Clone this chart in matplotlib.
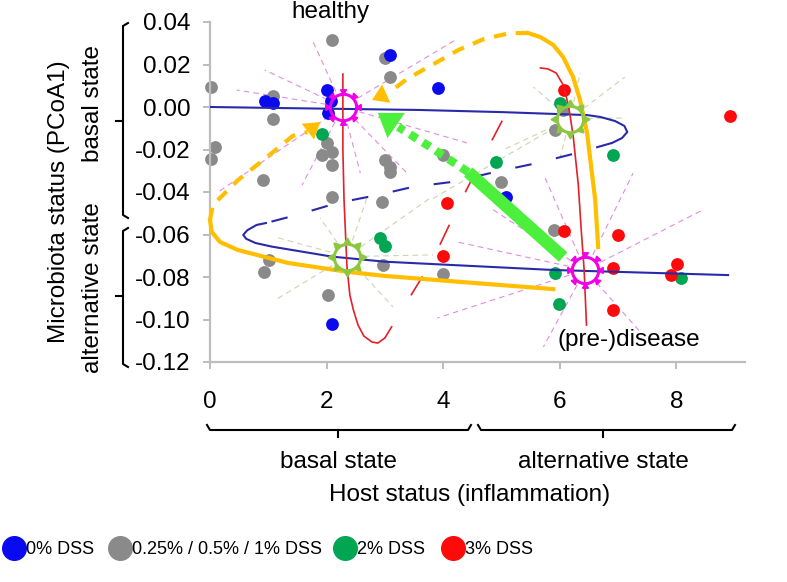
import numpy as np
import matplotlib.pyplot as plt
from matplotlib import transforms
from matplotlib.lines import Line2D

plt.rcParams['font.family'] = ['Liberation Sans', 'DejaVu Sans']
plt.rcParams['lines.scale_dashes'] = False

# samples: host status (x) vs microbiota PCoA1 (y)
dss0_x = [0.94, 1.08, 2.0, 2.08, 2.03, 3.09, 3.91, 5.08, 2.10]
dss0_y = [0.0028, 0.0019, 0.0080, 0.0030, -0.0030, 0.0245, 0.0091, -0.0422, -0.1023]

dss_low_x = [2.09, 3.0, 3.09, 0.02, 1.08, 1.08, 0.09, 0.02, 2.0, 1.92, 2.09, 2.09, 0.91, 3.0,
             3.09, 3.09, 2.09, 2.95, 4.0, 5.0, 6.06, 5.92, 5.91, 1.01, 0.93, 2.02, 2.97, 4.0]
dss_low_y = [0.0315, 0.023, 0.0141, 0.0096, 0.0052, -0.0056, -0.0188, -0.0245, -0.0169, -0.0226,
             -0.0212, -0.0273, -0.0344, -0.0249, -0.0282, -0.0306, -0.0424, -0.0447, -0.0226,
             -0.0353, -0.0014, -0.0108, -0.0579, -0.072, -0.0776, -0.0885, -0.0744, -0.0787]

dss2_x = [1.93, 4.91, 6.01, 6.92, 2.92, 3.0, 5.92, 5.99, 8.09]
dss2_y = [-0.0127, -0.0259, 0.0019, -0.0228, -0.0616, -0.0654, -0.0781, -0.0927, -0.0803]

dss3_x = [6.08, 8.92, 4.07, 6.08, 7.0, 4.0, 6.91, 8.01, 7.91, 6.91]
dss3_y = [0.008, -0.0041, -0.0452, -0.0584, -0.0602, -0.0701, -0.0759, -0.0737, -0.0791, -0.0955]

legend_labels = ['0% DSS', '0.25% / 0.5% / 1% DSS', '2% DSS', '3% DSS']
dot_colors = ['#0a0af0', '#8a8a8a', '#00a651', '#ff0a0a']

# microbiota nullcline (blue)
mic_top_x = [0.0, 1.5, 3.6, 5.0, 6.47, 6.70, 6.95, 7.11, 7.16, 7.07, 6.90]
mic_top_y = [0.0, -0.0006, -0.0014, -0.0024, -0.0038, -0.0047, -0.0066, -0.0089, -0.0118, -0.0146, -0.0169]
mic_mid_x = [6.90, 6.30, 5.61, 4.92, 4.17, 3.48, 2.88, 2.18, 1.49, 0.96]
mic_mid_y = [-0.0169, -0.0216, -0.0264, -0.0304, -0.0352, -0.0376, -0.0414, -0.0452, -0.0508, -0.0546]
mic_low_x = [0.96, 0.80, 0.64, 0.57, 0.62, 0.78, 1.06, 2.09, 3.0, 5.89, 8.89]
mic_low_y = [-0.0546, -0.0555, -0.0580, -0.0602, -0.0620, -0.0640, -0.0657, -0.0704, -0.0728, -0.0767, -0.0791]

# host nullcline (red)
host_left_x = [2.28, 2.28, 2.30, 2.35, 2.40, 2.46, 2.54, 2.64, 2.78, 2.88, 3.0]
host_left_y = [0.0155, -0.0202, -0.0438, -0.0752, -0.0885, -0.0955, -0.1026, -0.1078, -0.1106, -0.1111, -0.1087]
host_mid_x = [3.0, 3.83, 4.26, 4.67, 5.25]
host_mid_y = [-0.1087, -0.0715, -0.0466, -0.0245, 0.006]
host_right_x = [5.67, 5.80, 5.94, 6.06, 6.15, 6.23, 6.32, 6.37, 6.42, 6.46]
host_right_y = [0.0184, 0.0179, 0.016, 0.0104, 0.0009, -0.0132, -0.0367, -0.0579, -0.0767, -0.1026]

# hysteresis loop (orange)
loop_low_x = [5.89, 4.34, 3.0, 2.37, 1.34, 0.48, 0.17, 0.03, 0.0]
loop_low_y = [-0.0857, -0.0824, -0.0795, -0.0776, -0.0734, -0.0673, -0.0635, -0.0588, -0.0532]
loop_low_dash_x = [0.0, 0.05, 0.48, 0.98, 1.42, 1.67]
loop_low_dash_y = [-0.0532, -0.0461, -0.0344, -0.0235, -0.0136, -0.0118]
loop_low_tip = (1.89, -0.0071)
loop_high_x = [6.66, 6.61, 6.47, 6.35, 6.23, 6.06, 5.89, 5.67, 5.46]
loop_high_y = [-0.0659, -0.0438, -0.0122, 0.0033, 0.0141, 0.0235, 0.0292, 0.0329, 0.0348]
loop_high_dash_x = [5.46, 5.15, 4.70, 4.26, 3.81, 3.38, 3.09]
loop_high_dash_y = [0.0348, 0.0348, 0.032, 0.0268, 0.0198, 0.0132, 0.0071]
loop_high_tip = (2.78, 0.0033)

# recovery arrow (green)
recov_x = [6.06, 4.43]
recov_y = [-0.0706, -0.0306]
recov_dot_x = [4.43, 3.75, 3.23]
recov_dot_y = [-0.0306, -0.0183, -0.0094]
recov_tip = (2.88, -0.0028)

# equilibria
healthy = (2.28, 0.0)
disease = (6.44, -0.0767)
saddle_low = (2.35, -0.0704)
saddle_high = (6.18, -0.0055)
healthy_rays_x = [1.77, 0.94, 0.46, 0.14, 1.58, 2.58, 3.38, 4.21, 4.41]
healthy_rays_y = [0.0306, 0.0174, 0.0080, -0.0400, -0.0367, -0.0311, -0.0311, 0.0315, -0.0169]
disease_rays_x = [4.24, 3.90, 5.72, 7.43, 8.45, 7.26, 5.75, 4.81]
disease_rays_y = [-0.0635, -0.0993, -0.1129, -0.1073, -0.0485, -0.0311, -0.0334, -0.0475]
saddle_low_rays_x = [1.89, 1.12, 1.12, 3.14, 3.83, 3.78, 2.71]
saddle_low_rays_y = [-0.0522, -0.0612, -0.0908, -0.0941, -0.0696, -0.0428, -0.0414]
saddle_high_rays_x = [7.12, 7.09, 6.35, 5.55, 5.03, 6.01, 3.78]
saddle_high_rays_y = [0.0141, -0.0052, 0.0160, 0.0094, -0.0202, -0.0235, -0.0438]

x_ticks = [0, 2, 4, 6, 8]
y_ticks = [0.04, 0.02, 0.0, -0.02, -0.04, -0.06, -0.08, -0.10, -0.12]
y_tick_labels = ['0.04', '0.02', '0.00', '-0.02', '-0.04', '-0.06', '-0.08', '-0.10', '-0.12']

W, H = 787, 582
fig = plt.figure(figsize=(W / 100, H / 100), dpi=100)
ax = fig.add_axes([210 / W, 1 - 362 / H, 535 / W, 340 / H])
ax.set_xlim(0, 9.18)
ax.set_ylim(-0.12, 0.04)

for s in ['top', 'right']:
    ax.spines[s].set_visible(False)
for s in ['left', 'bottom']:
    ax.spines[s].set_color('#bdbdbd')
    ax.spines[s].set_linewidth(1.6)
ax.set_xticks(x_ticks)
ax.set_yticks(y_ticks)
ax.set_yticklabels(y_tick_labels)
ax.tick_params(axis='both', colors='#bdbdbd', labelcolor='black', labelsize=17.5,
               length=5, width=1.4)
ax.tick_params(axis='x', pad=16)
ax.tick_params(axis='y', pad=9)

# data points
for xs, ys, c in zip([dss_low_x, dss0_x, dss2_x, dss3_x], [dss_low_y, dss0_y, dss2_y, dss3_y],
                     [dot_colors[1], dot_colors[0], dot_colors[2], dot_colors[3]]):
    ax.scatter(xs, ys, s=85, color=c, lw=0, zorder=2, clip_on=False)


def rays(center, xs, ys, color, r0=17):
    cx, cy = ax.transData.transform(center)
    inv = ax.transData.inverted()
    for ex, ey in zip(xs, ys):
        px, py = ax.transData.transform((ex, ey))
        d = np.hypot(px - cx, py - cy)
        sx, sy = inv.transform((cx + (px - cx) * r0 / d, cy + (py - cy) * r0 / d))
        ax.plot([sx, ex], [sy, ey], color=color, lw=0.8, ls=(0, (4, 3)), zorder=1)


def hub(center, color, inward):
    ax.plot(*center, 'o', ms=19, mfc='none', mec=color, mew=2.2, zorder=7)
    for k in range(8):
        a = np.deg2rad(45 * k)
        off = transforms.ScaledTranslation(16 * np.cos(a) / 100, 16 * np.sin(a) / 100,
                                           fig.dpi_scale_trans)
        phi = 45 * k + (180 if inward else 0)
        ax.plot(*center, marker=(3, 0, phi - 90), ms=5, color=color, ls='none',
                transform=ax.transData + off, zorder=7)


rays(healthy, healthy_rays_x, healthy_rays_y, '#e08ce0')
rays(disease, disease_rays_x, disease_rays_y, '#e08ce0')
rays(saddle_low, saddle_low_rays_x, saddle_low_rays_y, '#c9d6b0')
rays(saddle_high, saddle_high_rays_x, saddle_high_rays_y, '#c9d6b0')

# nullclines
blue = '#2a2aa8'
ax.plot(mic_top_x, mic_top_y, color=blue, lw=1.5, zorder=3)
ax.plot(mic_mid_x, mic_mid_y, color=blue, lw=1.5, ls=(0, (12, 18)), zorder=3)
ax.plot(mic_low_x, mic_low_y, color=blue, lw=1.5, zorder=3)
red = '#e3202a'
ax.plot(host_left_x, host_left_y, color=red, lw=1.2, zorder=4)
ax.plot(host_mid_x, host_mid_y, color=red, lw=1.2, ls=(6, (16, 26)), zorder=4)
ax.plot(host_right_x, host_right_y, color=red, lw=1.2, zorder=4)

# orange loop
orange = '#ffbf00'
ax.plot(loop_low_x, loop_low_y, color=orange, lw=3, zorder=4, clip_on=False)
ax.plot(loop_low_dash_x, loop_low_dash_y, color=orange, lw=3, ls=(0, (9, 7)), zorder=4,
        clip_on=False)
ax.annotate('', xy=loop_low_tip, xytext=(loop_low_dash_x[-1], loop_low_dash_y[-1]),
            arrowprops=dict(arrowstyle='-|>,head_length=0.7,head_width=0.45', color=orange,
                            lw=0, shrinkA=0, shrinkB=0, mutation_scale=16), zorder=4)
ax.plot(loop_high_x, loop_high_y, color=orange, lw=3, zorder=4)
ax.plot(loop_high_dash_x, loop_high_dash_y, color=orange, lw=3, ls=(0, (9, 7)), zorder=4)
ax.annotate('', xy=loop_high_tip, xytext=(loop_high_dash_x[-1], loop_high_dash_y[-1]),
            arrowprops=dict(arrowstyle='-|>,head_length=0.7,head_width=0.45', color=orange,
                            lw=0, shrinkA=0, shrinkB=0, mutation_scale=16), zorder=4)

# green recovery arrow
green = '#4cef3c'
ax.plot(recov_x, recov_y, color=green, lw=9, solid_capstyle='butt', zorder=5)
ax.plot(recov_dot_x, recov_dot_y, color=green, lw=6, ls=(0, (6, 5)), dash_capstyle='butt',
        zorder=5)
ax.annotate('', xy=recov_tip, xytext=(recov_dot_x[-1], recov_dot_y[-1]),
            arrowprops=dict(arrowstyle='-|>,head_length=0.8,head_width=0.55', color=green,
                            lw=0, shrinkA=0, shrinkB=0, mutation_scale=20), zorder=5)

hub(healthy, '#f000e8', True)
hub(disease, '#f000e8', True)
hub(saddle_low, '#8dc63f', False)
hub(saddle_high, '#8dc63f', False)

ax.text(2.07, 0.0447, 'healthy', fontsize=17.5, ha='center', va='center',
        clip_on=False)
ax.text(7.18, -0.1095, '(pre-)disease', fontsize=17.5, ha='center', va='center')


def fp(px, py):
    return px / W, 1 - py / H


def fline(pts, **kw):
    xs, ys = zip(*[fp(*p) for p in pts])
    fig.add_artist(Line2D(xs, ys, transform=fig.transFigure, color='black', lw=1.5, **kw))


# axis group brackets
fline([(128, 23), (123, 26), (123, 215), (128, 218)])
fline([(123, 121), (116, 121)])
fline([(128, 228), (123, 231), (123, 364), (128, 367)])
fline([(123, 296), (116, 296)])
fline([(207, 425), (210, 430), (468, 430), (471, 425)])
fline([(338, 430), (338, 437)])
fline([(478, 425), (481, 430), (732, 430), (735, 425)])
fline([(603, 430), (603, 437)])

fig.text(*fp(93, 104), 'basal state', rotation=90, fontsize=17.5, ha='center', va='center')
fig.text(*fp(93, 288), 'alternative state', rotation=90, fontsize=17.5, ha='center', va='center')
fig.text(*fp(59, 202), 'Microbiota status (PCoA1)', rotation=90, fontsize=17.5,
         ha='center', va='center')
fig.text(*fp(338, 462), 'basal state', fontsize=17.5, ha='center', va='center')
fig.text(*fp(603, 462), 'alternative state', fontsize=17.5, ha='center', va='center')
fig.text(*fp(470, 495), 'Host status (inflammation)', fontsize=17.5, ha='center', va='center')

# legend
legend_x = [14, 120, 345, 453]
for lx, lab, c in zip(legend_x, legend_labels, dot_colors):
    fig.add_artist(Line2D([lx / W], [1 - 548 / H], transform=fig.transFigure, marker='o',
                          ms=17, color=c, ls='none'))
    fig.text(*fp(lx + 12, 549), lab, fontsize=13, ha='left', va='center')

fig.savefig('out.png', dpi=100)
